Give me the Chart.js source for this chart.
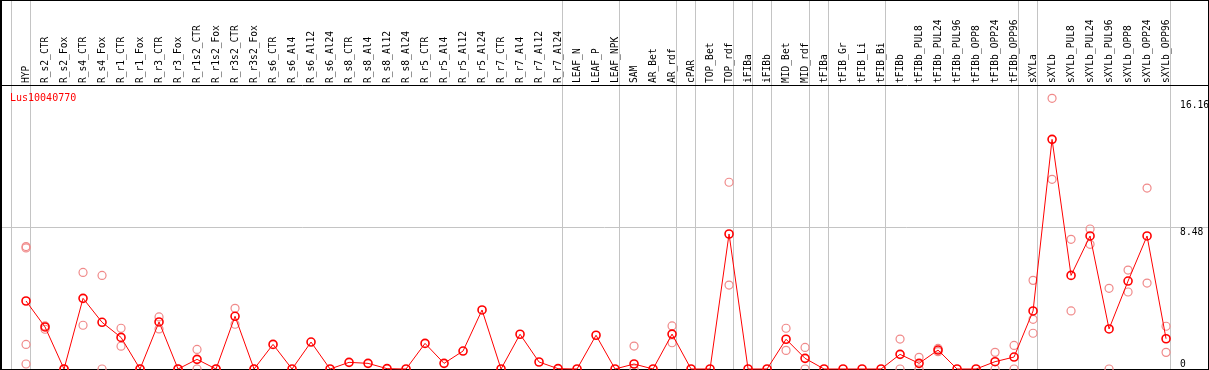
<!DOCTYPE html>
<html>
<head>
<meta charset="utf-8">
<script src="https://cdn.jsdelivr.net/npm/chart.js@4/dist/chart.umd.min.js"></script>
<style>
html, body { margin: 0; padding: 0; background: #fff; }
#wrap { width: 1209px; height: 370px; }
canvas { display: block; }
</style>
</head>
<body>
<div id="wrap"><canvas id="c" width="1209" height="370"></canvas></div>
<script>
// ---------- data ----------
const chartTitle = 'Lus10040770';

const categories = [
  'HYP', 'R_s2_CTR', 'R_s2_Fox', 'R_s4_CTR', 'R_s4_Fox', 'R_r1_CTR', 'R_r1_Fox',
  'R_r3_CTR', 'R_r3_Fox', 'R_r1s2_CTR', 'R_r1s2_Fox', 'R_r3s2_CTR', 'R_r3s2_Fox',
  'R_s6_CTR', 'R_s6_Al4', 'R_s6_Al12', 'R_s6_Al24', 'R_s8_CTR', 'R_s8_Al4', 'R_s8_Al12',
  'R_s8_Al24', 'R_r5_CTR', 'R_r5_Al4', 'R_r5_Al12', 'R_r5_Al24', 'R_r7_CTR', 'R_r7_Al4',
  'R_r7_Al12', 'R_r7_Al24', 'LEAF_N', 'LEAF_P', 'LEAF_NPK', 'SAM', 'AR_Bet', 'AR_rdf',
  'cPAR', 'TOP_Bet', 'TOP_rdf', 'iFIBa', 'iFIBb', 'MID_Bet', 'MID_rdf', 'tFIBa',
  'tFIB_Gr', 'tFIB_Li', 'tFIB_Bi', 'tFIBb', 'tFIBb_PUL8', 'tFIBb_PUL24', 'tFIBb_PUL96',
  'tFIBb_OPP8', 'tFIBb_OPP24', 'tFIBb_OPP96', 'sXYLa', 'sXYLb', 'sXYLb_PUL8',
  'sXYLb_PUL24', 'sXYLb_PUL96', 'sXYLb_OPP8', 'sXYLb_OPP24', 'sXYLb_OPP96'
];

const meanValues = [
  4.09, 2.53, 0, 4.25, 2.81, 1.90, 0,
  2.83, 0, 0.58, 0, 3.17, 0,
  1.48, 0, 1.62, 0, 0.40, 0.34, 0.02,
  0, 1.54, 0.34, 1.08, 3.55, 0, 2.09,
  0.42, 0.02, 0, 2.03, 0, 0.30, 0, 2.10,
  0, 0, 8.12, 0, 0, 1.79, 0.64, 0,
  0, 0, 0, 0.88, 0.34, 1.14, 0,
  0, 0.44, 0.72, 3.49, 13.81, 5.63,
  8.00, 2.41, 5.29, 8.00, 1.82
];

// individual replicate values (faint circles), per category
const replicateValues = [
  [7.36, 7.28, 1.48, 0.30], [2.59, 2.39], [0], [5.81, 2.63], [5.63, 0], [2.45, 1.37], [0],
  [3.13, 2.41], [0], [1.18, 0], [0], [3.65, 2.69], [0],
  [], [], [], [], [], [], [],
  [], [], [], [], [], [], [],
  [], [], [], [], [], [1.38, 0], [], [2.59, 1.58],
  [], [], [11.23, 5.05], [], [], [2.45, 1.12], [1.30, 0], [],
  [], [], [], [1.80, 0], [0.70, 0], [1.24, 1.04], [],
  [], [1.00, 0], [1.42, 0], [5.33, 2.99, 2.15], [16.28, 11.41], [7.80, 3.49],
  [8.42, 7.50], [4.85, 0], [5.95, 4.63], [10.88, 5.17], [2.57, 1.00]
];

// category index after which a group separator line is drawn (-1 = before the first)
const groupBreaks = [-1, 0, 28, 31, 34, 35, 37, 38, 39, 41, 42, 45, 52, 53, 60];

const yTickValues = [0, 8.48, 16.16];
const yTickLabels = ['0', '8.48', '16.16'];
const yGridValues = [8.48];

// ---------- chart ----------
const FONT = { family: 'DejaVu Sans Mono', size: 9.6 };
const FONT_CSS = '9.6px "DejaVu Sans Mono"';

const meanPoints = meanValues.map((v, i) => ({ x: i, y: v }));
const repPoints = [];
replicateValues.forEach((arr, i) => arr.forEach(v => repPoints.push({ x: i, y: v })));

function noPad(s) {
  s.paddingLeft = 0; s.paddingRight = 0; s.paddingTop = 0; s.paddingBottom = 0;
}

const decorPlugin = {
  id: 'decor',
  beforeDraw(chart) {
    const { ctx, scales: { x }, chartArea } = chart;
    ctx.save();
    ctx.strokeStyle = '#c4c4c4';
    ctx.lineWidth = 1;
    groupBreaks.forEach(g => {
      const px = Math.floor(x.getPixelForValue(g + 0.24)) + 0.5;
      ctx.beginPath();
      ctx.moveTo(px, 0);
      ctx.lineTo(px, chartArea.bottom);
      ctx.stroke();
    });
    ctx.restore();
  },
  beforeDatasetsDraw(chart) {
    const { ctx, chartArea, width, height, scales: { y } } = chart;
    ctx.save();
    ctx.strokeStyle = '#000';
    ctx.lineWidth = 1;
    ctx.strokeRect(0.5, 0.5, width - 1, height - 1);
    ctx.beginPath();
    ctx.moveTo(1.5, 0); ctx.lineTo(1.5, height);
    ctx.stroke();
    // title
    ctx.fillStyle = '#ff0000';
    ctx.font = '10px "DejaVu Sans Mono"';
    ctx.textBaseline = 'alphabetic';
    ctx.textAlign = 'left';
    ctx.fillText(chartTitle, chartArea.left + 10, chartArea.top + 16);
    // baseline value label, sitting above the zero line in the same column as the axis labels
    ctx.font = FONT_CSS;
    ctx.fillStyle = '#000';
    ctx.textBaseline = 'bottom';
    const widest = Math.max(...yTickLabels.map(s => ctx.measureText(s).width));
    yTickValues.forEach((v, i) => {
      if (v !== y.min) return;
      ctx.fillText(yTickLabels[i], chartArea.right - widest, y.getPixelForValue(v));
    });
    ctx.restore();
  }
};

new Chart(document.getElementById('c'), {
  type: 'line',
  data: {
    datasets: [
      {
        label: chartTitle,
        data: meanPoints,
        borderColor: '#ff0000',
        borderWidth: 1,
        pointRadius: 4,
        pointBorderWidth: 1.6,
        pointBorderColor: '#ff0000',
        pointBackgroundColor: 'rgba(0,0,0,0)',
        tension: 0,
        clip: false,
        order: 1
      },
      {
        label: 'replicates',
        data: repPoints,
        showLine: false,
        pointRadius: 4,
        pointBorderWidth: 1.2,
        pointBorderColor: '#f08a8a',
        pointBackgroundColor: 'rgba(0,0,0,0)',
        clip: false,
        order: 2
      }
    ]
  },
  options: {
    responsive: false,
    animation: false,
    devicePixelRatio: 1,
    layout: { autoPadding: false, padding: { top: 0, left: 0, right: 0, bottom: 1 } },
    plugins: { legend: { display: false }, tooltip: { enabled: false }, title: { display: false } },
    scales: {
      x: {
        type: 'linear',
        position: 'top',
        min: -1.37,
        max: 62.26,
        afterBuildTicks: s => { s.ticks = categories.map((_, i) => ({ value: i })); },
        afterFit: s => { s.height = 85; noPad(s); },
        grid: { display: false, drawTicks: false },
        border: { display: true, color: '#000', width: 1 },
        ticks: {
          autoSkip: false,
          minRotation: 90,
          maxRotation: 90,
          padding: 2,
          labelOffset: 12,
          color: '#000',
          font: FONT,
          callback: v => categories[v] !== undefined ? categories[v] : ''
        }
      },
      y: {
        type: 'linear',
        position: 'right',
        min: 0,
        max: 17.08,
        afterBuildTicks: s => { s.ticks = yTickValues.filter(v => v > 0).map(v => ({ value: v })); },
        afterFit: s => { s.width = 0; noPad(s); },
        grid: {
          drawTicks: false,
          lineWidth: 1,
          color: c => (c.tick && yGridValues.includes(c.tick.value)) ? '#c4c4c4' : 'rgba(0,0,0,0)'
        },
        border: { display: false },
        ticks: {
          mirror: true,
          crossAlign: 'far',
          align: 'start',
          padding: 0,
          color: '#000',
          font: FONT,
          callback: v => yTickLabels[yTickValues.indexOf(v)]
        }
      }
    }
  },
  plugins: [decorPlugin]
});
</script>
</body>
</html>
